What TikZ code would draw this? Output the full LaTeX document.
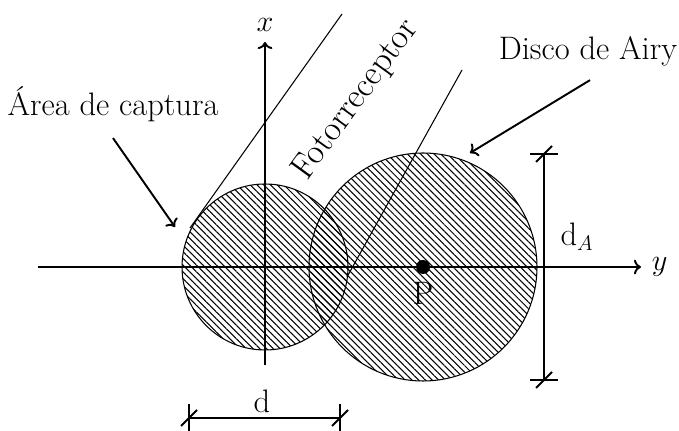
\documentclass[tikz,border=0pt]{standalone}
\usepackage{tikz}
\usetikzlibrary{positioning, arrows.meta, patterns.meta, calc}

\begin{document}
\begin{tikzpicture}[
  x=0.02cm, y=-0.02cm,
  lbl/.style={font=\fontsize{18.5}{22}\selectfont, inner sep=0pt},
  axis/.style={->, line width=1.1pt},
  arr/.style={->, line width=1.1pt},
  disc/.style={draw, line width=0.6pt, pattern={Lines[angle=-45, distance=2.7pt, line width=0.6pt]}},
  ray/.style={line width=0.6pt},
  dim/.style={line width=1.1pt},
]
  \useasboundingbox (0,0) rectangle (679,431);

  % centres of the two discs
  \coordinate (O) at (265,267);
  \coordinate (P) at (423,267);

  \draw[disc] (O) circle[radius=83];
  \draw[disc] (P) circle[radius=114];

  % photoreceptor edges
  \coordinate (ray1a) at (342,14);
  \coordinate (ray1b) at (190,228);
  \coordinate (ray2a) at (462,70);
  \coordinate (ray2b) at (347,277);
  \draw[ray] (ray1a) -- (ray1b);
  \draw[ray] (ray2a) -- (ray2b);

  % axes
  \coordinate (xbot) at (265,365);
  \coordinate (xtip) at (265,42);
  \coordinate (yleft) at (38,267);
  \coordinate (ytip) at (641,267);
  \draw[axis] (xbot) -- (xtip);
  \draw[axis] (yleft) -- (ytip);
  \node[lbl, above=6pt of xtip] (xlab) {$x$};
  \node[lbl, right=6pt of ytip] (ylab) {$y$};

  % point P
  \fill (P) circle[radius=7];
  \node[lbl] (plab) at (423,293) {P};

  % labels
  \node[lbl] (area) at (113,104) {Área de captura};
  \node[lbl] (airy) at (588,51) {Disco de Airy};
  \node[lbl, font=\fontsize{20}{24}\selectfont, rotate=54] (foto) at (356,100) {Fotorreceptor};

  \coordinate (areatip) at (175,227);
  \coordinate (airytip) at (470,153);
  \draw[arr] ($(area.south)+(0,16)$) -- (areatip);
  \draw[arr] ($(airy.south)+(2,14)$) -- (airytip);

  % dimension d_A
  \coordinate (dAtop) at (544,154);
  \coordinate (dAbot) at (544,380);
  \draw[dim] (dAtop) -- (dAbot);
  \foreach \p in {dAtop, dAbot} {
    \draw[dim] ($(\p)+(-14,0)$) -- ($(\p)+(14,0)$);
    \draw[dim] ($(\p)+(-8,8)$) -- ($(\p)+(8,-8)$);
  }
  \node[lbl] (dAlab) at (577,237) {d$_A$};

  % dimension d
  \coordinate (dleft) at (189,418);
  \coordinate (dright) at (340,418);
  \draw[dim] (dleft) -- (dright);
  \foreach \p in {dleft, dright} {
    \draw[dim] ($(\p)+(0,-14)$) -- ($(\p)+(0,14)$);
    \draw[dim] ($(\p)+(-8,8)$) -- ($(\p)+(8,-8)$);
  }
  \node[lbl] (dlab) at (262,401) {d};
\end{tikzpicture}
\end{document}
